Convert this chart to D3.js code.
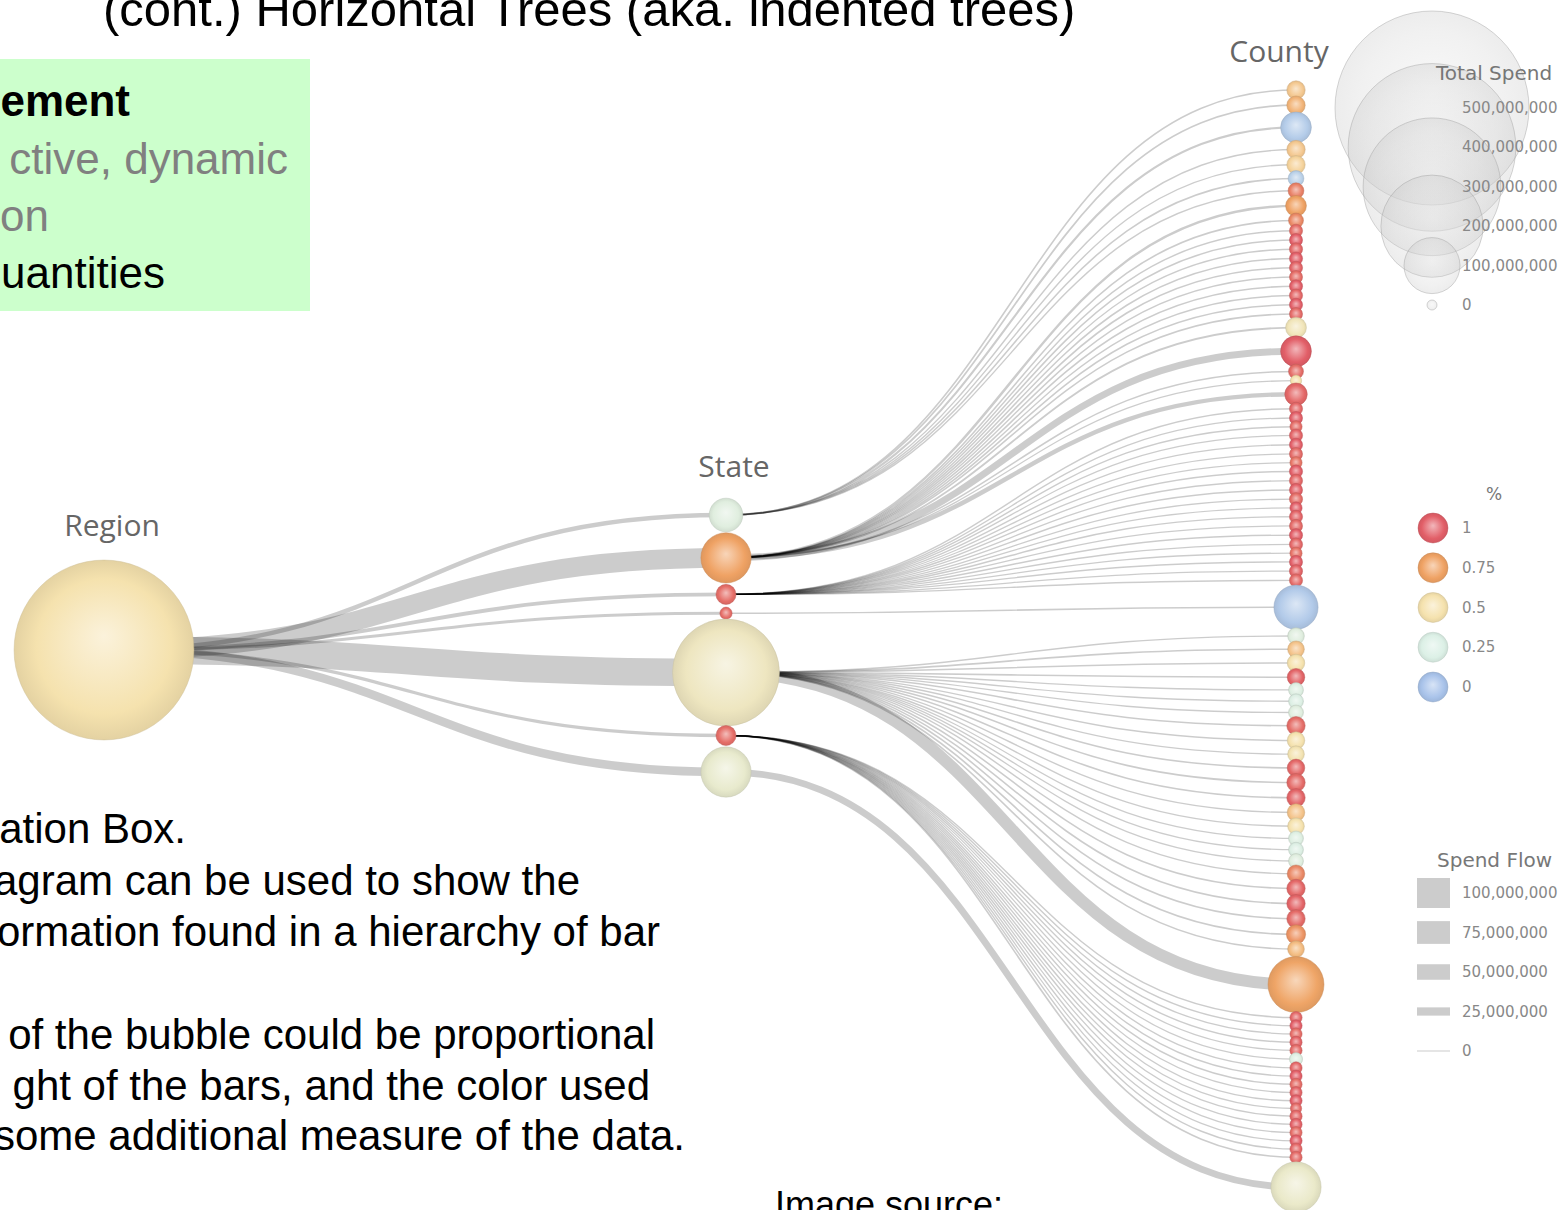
<!DOCTYPE html>
<html>
<head>
<meta charset="utf-8">
<script src="https://cdn.jsdelivr.net/npm/d3@7"></script>
<style>
body { margin: 0; background: #fff; overflow: hidden; }
svg { display: block; }
</style>
</head>
<body>
<svg id="chart" width="1564" height="1210"></svg>
<script>
// ---- data (spend and flow in millions) ----
const M = 1e6;
const levels = ["Region", "State", "County"];

const regionSpend = 445;
const regionPct = 0.5;

const stateSpend = [64, 90, 46, 37, 212, 46, 90];
const statePct   = [0.28, 0.75, 0.95, 0.95, 0.42, 0.95, 0.36];
const stateFlow  = [12, 64, 10, 7, 92, 8, 26];

const countyState = [
  0,0,0,0,0,0,0,
  1,1,1,1,1,1,1,1,1,1,1,1,1,1,1,1,1,
  2,2,2,2,2,2,2,2,2,2,2,2,2,2,2,2,2,2,2,2,
  3,
  4,4,4,4,4,4,4,4,4,4,4,4,4,4,4,4,4,4,4,4,4,4,4,4,4,
  5,5,5,5,5,5,5,5,5,5,5,5,5,5,5,5,5,5,
  6
];
const countySpend = [
  44,44,60,44,44,41,41,
  47,40,38,38,38,38,38,38,38,38,38,38,47,60,40,36,49,
  38,38,37,38,38,38,37,38,38,38,38,37,38,38,38,38,37,38,38,38,
  80,
  42,42,43,43,40,40,40,44,43,42,43,44,44,43,42,40,40,40,43,44,44,44,45,42,100,
  37,37,37,37,37,38,37,37,37,37,37,36,37,37,37,37,37,37,
  90
];
const countyPct = [
  .6,.68,.05,.6,.56,.08,.88,
  .75,.85,.95,1,.97,1,.98,.95,1,.97,1,.96,.45,1,.95,.5,.97,
  .97,1,.95,.98,1,.96,.92,1,.97,.99,.95,1,.98,.96,1,.97,.93,1,.98,.96,
  .04,
  .28,.62,.5,.98,.27,.26,.28,.95,.5,.48,.97,.96,.98,.62,.5,.27,.26,.28,.85,.97,.98,.96,.8,.65,.74,
  .97,1,.95,.98,.96,.27,.97,1,.95,.98,1,.96,.97,.99,.95,1,.97,.96,
  .38
];
const countyFlow = [
  2,2.5,4,1.5,1.5,2,1.5,
  5,2,1.5,2,1.5,2,2.5,1.5,2,1.5,2,2,3,20,2,1,12,
  1.5,1,1.5,1,1.5,1,1,1.5,1,1.5,1,1,1.5,1,1.5,1,1,1.5,1,1.5,
  2,
  1.5,2,1.5,2,1,1,1,2,1.5,1.5,2,2,2,1.5,1.5,1,1,1,1.5,2,2,2,2.5,2,38,
  1.5,1.5,1,1.5,1,1,1.5,1,1.5,1,1.5,1,1.5,1,1.5,1,1.5,2,
  20
];

const spendLegend = [500e6, 400e6, 300e6, 200e6, 100e6, 0];
const pctLegend = [1, 0.75, 0.5, 0.25, 0];
const flowLegend = [100e6, 75e6, 50e6, 25e6, 0];

// ---- scales ----
const rScale = d3.scaleSqrt().domain([100e6, 500e6]).range([28, 97]);
const radius = v => Math.max(5, rScale(v));
const flowW = d3.scaleLinear().domain([0, 100e6]).range([1, 30]);
const pctColor = d3.scaleLinear()
  .domain([0, 0.25, 0.5, 0.75, 1])
  .range(["#a9c3ea", "#dcf0e6", "#f5e2ae", "#efa264", "#e25f68"])
  .interpolate(d3.interpolateLab);
const levelX = d3.scaleOrdinal().domain(levels).range([104, 726, 1296]);

// stack circles along a column, neighbours spaced by their radii
function stack(radii, gap) {
  const pos = [0];
  for (let i = 1; i < radii.length; i++) pos.push(pos[i - 1] + radii[i - 1] + radii[i] + gap);
  return pos;
}

const regionY = 650;
const stateR = stateSpend.map(v => radius(v * M));
const statePos = stack(stateR, 4);
const stateY = d3.scaleLinear().domain([0, statePos[statePos.length - 1]]).range([515, 772]);
const countyR = countySpend.map(v => radius(v * M));
const countyPos = stack(countyR, -5);
const countyY = d3.scaleLinear().domain([0, countyPos[countyPos.length - 1]]).range([90, 1187]);

const svg = d3.select("#chart");
const defs = svg.append("defs");
const slideFont = "Liberation Sans, Arial, sans-serif";

// ---- slide text ----
svg.append("text")
  .attr("x", 103).attr("y", 26)
  .attr("font-family", slideFont)
  .attr("font-size", 49)
  .text("(cont.) Horizontal Trees (aka. indented trees)");

svg.append("rect")
  .attr("x", -10).attr("y", 59).attr("width", 320).attr("height", 252)
  .attr("fill", "#ccffcc");

const boxLines = [
  { t: "ement", x: 130, y: 116, c: "#000", w: "bold" },
  { t: "ctive, dynamic", x: 288, y: 174, c: "#808080", w: "normal" },
  { t: "on", x: 49, y: 231, c: "#808080", w: "normal" },
  { t: "uantities", x: 165, y: 288, c: "#000", w: "normal" }
];
svg.append("g").selectAll("text").data(boxLines).join("text")
  .attr("x", d => d.x).attr("y", d => d.y)
  .attr("text-anchor", "end")
  .attr("font-family", slideFont)
  .attr("font-size", 44)
  .attr("font-weight", d => d.w)
  .attr("fill", d => d.c)
  .text(d => d.t);

const noteLines = [
  { t: "ation Box.", x: 186, y: 843 },
  { t: "agram can be used to show the", x: 580, y: 895 },
  { t: "ormation found in a hierarchy of bar", x: 660, y: 946 },
  { t: "of the bubble could be proportional", x: 655, y: 1049 },
  { t: "ght of the bars, and the color used", x: 650, y: 1100 },
  { t: "some additional measure of the data.", x: 685, y: 1150 }
];
svg.append("g").selectAll("text").data(noteLines).join("text")
  .attr("x", d => d.x).attr("y", d => d.y)
  .attr("text-anchor", "end")
  .attr("font-family", slideFont)
  .attr("font-size", 42)
  .text(d => d.t);

svg.append("text")
  .attr("x", 775).attr("y", 1217)
  .attr("font-family", slideFont)
  .attr("font-size", 36)
  .text("Image source:");

// ---- links ----
const link = d3.linkHorizontal().x(d => d[0]).y(d => d[1]);

const regionLinks = stateSpend.map((v, i) => ({
  s: [levelX("Region"), regionY],
  t: [levelX("State"), stateY(statePos[i])],
  w: flowW(stateFlow[i] * M)
}));
const countyLinks = countySpend.map((v, i) => ({
  s: [levelX("State"), stateY(statePos[countyState[i]])],
  t: [levelX("County"), countyY(countyPos[i])],
  w: flowW(countyFlow[i] * M)
}));

svg.append("g")
  .attr("fill", "none")
  .attr("stroke", "#000")
  .attr("stroke-opacity", 0.2)
  .selectAll("path")
  .data(regionLinks.concat(countyLinks))
  .join("path")
  .attr("d", d => link({ source: d.s, target: d.t }))
  .attr("stroke-width", d => d.w);

// ---- nodes ----
function bubbleFill(id, c) {
  const g = defs.append("radialGradient").attr("id", id)
    .attr("cx", "50%").attr("cy", "50%").attr("r", "50%")
    .attr("fx", "50%").attr("fy", "42%");
  g.append("stop").attr("offset", "0%").attr("stop-color", d3.interpolateRgb(c, "#fff")(0.55));
  g.append("stop").attr("offset", "75%").attr("stop-color", c);
  g.append("stop").attr("offset", "100%").attr("stop-color", d3.color(c).darker(0.2));
  return `url(#${id})`;
}

const nodes = [{ x: levelX("Region"), y: regionY, r: radius(regionSpend * M), pct: regionPct }]
  .concat(stateSpend.map((v, i) => ({ x: levelX("State"), y: stateY(statePos[i]), r: stateR[i], pct: statePct[i] })))
  .concat(countySpend.map((v, i) => ({ x: levelX("County"), y: countyY(countyPos[i]), r: countyR[i], pct: countyPct[i] })));

svg.append("g").selectAll("circle")
  .data(nodes)
  .join("circle")
  .attr("cx", d => d.x).attr("cy", d => d.y).attr("r", d => d.r)
  .attr("fill", (d, i) => bubbleFill("b" + i, pctColor(d.pct)))
  .attr("stroke", d => d3.color(pctColor(d.pct)).darker(0.5))
  .attr("stroke-opacity", 0.45)
  .attr("stroke-width", 1);

// level titles
const titleY = { Region: 536, State: 477, County: 62 };
const titleDx = { Region: 8, State: 8, County: -17 };
svg.append("g").selectAll("text").data(levels).join("text")
  .attr("x", d => levelX(d) + titleDx[d])
  .attr("y", d => titleY[d])
  .attr("text-anchor", "middle")
  .attr("font-family", "Open Sans, sans-serif")
  .attr("font-size", 30)
  .attr("fill", "#666")
  .text(d => d);

// ---- legends ----
const lgFont = "DejaVu Sans, Verdana, sans-serif";
const fmt = d3.format(",");

// Total Spend
const spendY = d3.scalePoint().domain(spendLegend).range([108, 305]);
const lgSpend = svg.append("g");
lgSpend.selectAll("circle").data(spendLegend).join("circle")
  .attr("cx", 1432).attr("cy", d => spendY(d)).attr("r", d => radius(d))
  .attr("fill", (d, i) => bubbleFill("ls" + i, "#d0d0d0")).attr("fill-opacity", 0.3)
  .attr("stroke", "#999").attr("stroke-opacity", 0.4);
lgSpend.selectAll("text").data(spendLegend).join("text")
  .attr("x", 1462).attr("y", d => spendY(d) + 5)
  .attr("font-family", lgFont).attr("font-size", 15).attr("fill", "#888")
  .text(d => fmt(d));
lgSpend.append("text")
  .attr("x", 1436).attr("y", 80)
  .attr("font-family", lgFont).attr("font-size", 20).attr("fill", "#777")
  .text("Total Spend");

// %
const pctY = d3.scalePoint().domain(pctLegend).range([528, 687]);
const lgPct = svg.append("g");
lgPct.selectAll("circle").data(pctLegend).join("circle")
  .attr("cx", 1433).attr("cy", d => pctY(d)).attr("r", 15)
  .attr("fill", (d, i) => bubbleFill("lp" + i, pctColor(d)))
  .attr("stroke", d => d3.color(pctColor(d)).darker(0.5))
  .attr("stroke-opacity", 0.45);
lgPct.selectAll("text").data(pctLegend).join("text")
  .attr("x", 1462).attr("y", d => pctY(d) + 5)
  .attr("font-family", lgFont).attr("font-size", 15).attr("fill", "#888")
  .text(d => d);
lgPct.append("text")
  .attr("x", 1494).attr("y", 500).attr("text-anchor", "middle")
  .attr("font-family", lgFont).attr("font-size", 17).attr("fill", "#777")
  .text("%");

// Spend Flow
const flowY = d3.scalePoint().domain(flowLegend).range([893, 1051]);
const lgFlow = svg.append("g");
lgFlow.selectAll("rect").data(flowLegend).join("rect")
  .attr("x", 1417).attr("width", 33)
  .attr("y", d => flowY(d) - flowW(d) / 2).attr("height", d => flowW(d))
  .attr("fill", "#ccc");
lgFlow.selectAll("text").data(flowLegend).join("text")
  .attr("x", 1462).attr("y", d => flowY(d) + 5)
  .attr("font-family", lgFont).attr("font-size", 15).attr("fill", "#888")
  .text(d => fmt(d));
lgFlow.append("text")
  .attr("x", 1437).attr("y", 867)
  .attr("font-family", lgFont).attr("font-size", 20).attr("fill", "#777")
  .text("Spend Flow");
</script>
</body>
</html>
